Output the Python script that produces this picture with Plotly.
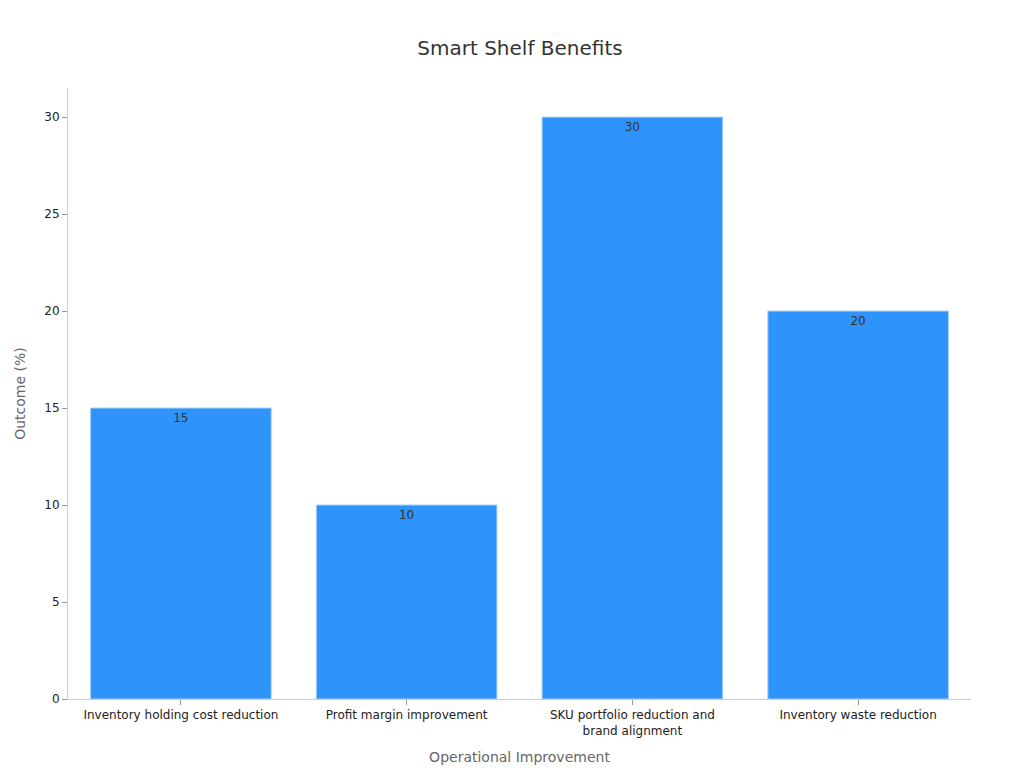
import plotly.graph_objects as go

# DATA
CATEGORIAS = [
    "Inventory holding cost reduction",
    "Profit margin improvement",
    "SKU portfolio reduction and<br>brand alignment",
    "Inventory waste reduction",
]
VALORES = [15, 10, 30, 20]

FONTE = "DejaVu Sans"

fig = go.Figure(
    go.Bar(
        x=CATEGORIAS,
        y=VALORES,
        text=VALORES,
        textposition="inside",
        insidetextanchor="end",
        textfont=dict(color="#333333", size=12),
        marker=dict(color="#2E93FA", line=dict(color="#A8CFF7", width=1)),
        width=0.8,
    )
)

fig.update_layout(
    width=1024,
    height=768,
    paper_bgcolor="white",
    plot_bgcolor="white",
    font=dict(family=FONTE, size=12, color="#333333"),
    title=dict(text="Smart Shelf Benefits", x=0.5, y=0.957, xanchor="center",
               font=dict(size=20, color="#333333")),
    margin=dict(l=60, r=61, t=80, b=77),
    showlegend=False,
)
fig.update_xaxes(
    title=dict(text="Operational Improvement", font=dict(size=14, color="#666666")),
    showline=True, linecolor="#CCCCCC", ticks="outside", tickcolor="#999999",
    ticklen=5, tickfont=dict(size=12, color="#222222"),
)
fig.update_yaxes(
    title=dict(text="Outcome (%)", font=dict(size=14, color="#666666")),
    range=[0, 31.5], dtick=5, showgrid=False, zeroline=False,
    showline=True, linecolor="#CCCCCC", ticks="outside", tickcolor="#999999",
    ticklen=5, tickfont=dict(size=12, color="#222222"),
)

fig.write_html("out.html")
